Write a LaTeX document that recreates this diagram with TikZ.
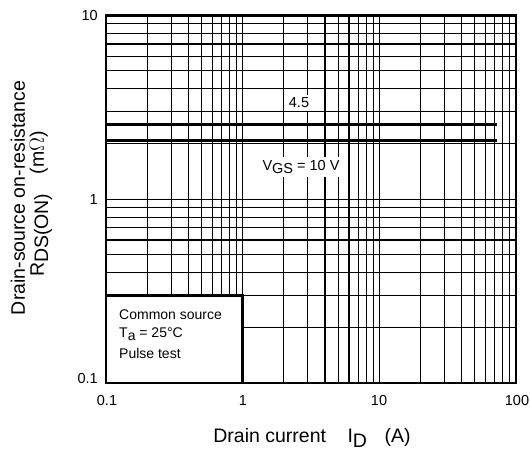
\documentclass[tikz,border=0pt]{standalone}
\usepackage{fontspec}
\setmainfont{Liberation Sans}
\newcommand\lsub[1]{\raisebox{-0.22em}{#1}}
\begin{document}
\begin{tikzpicture}[x=1pt,y=-1pt,
  gridline/.style={line width=1.1pt,black},
  frame/.style={line width=2.6pt,black},
  curve/.style={line width=3pt,black},
  tick/.style={font=\fontsize{14.5}{16}\selectfont,inner sep=0pt},
  axlabel/.style={font=\fontsize{19.5}{21}\selectfont,inner sep=0pt},
  curvelabel/.style={font=\fontsize{14.5}{16}\selectfont,fill=white,inner sep=3pt},
  legend/.style={font=\fontsize{14}{16}\selectfont,inner sep=0pt,anchor=west}]
\useasboundingbox (0,0) rectangle (530,453);
\begin{scope}[shift={(106,383)},x=136.67pt,y=183.75pt]
  \foreach \d in {0,1,2}{
    \foreach \m in {1,...,9}{
      \draw[gridline] ({\d+log10(\m)},0) -- ({\d+log10(\m)},2);
    }
  }
  \foreach \d in {0,1}{
    \foreach \m in {1,...,9}{
      \draw[gridline] (0,{\d+log10(\m)}) -- (3,{\d+log10(\m)});
    }
  }
  \draw[frame,fill=white] (0,0) rectangle (1,{log10(3)});
  \draw[curve] (0,1.4095) -- (2.861,1.4095);
  \draw[curve] (0,1.3224) -- (2.861,1.3224);
  \draw[frame] (0,0) rectangle (3,2);
\end{scope}
\node[curvelabel] (l45) at (299,103) {4.5};
\node[curvelabel] (l10) at (301,167) {V\lsub{GS} = 10 V};
\node[legend] (lg1) at (119,315) {Common source};
\node[legend] (lg2) at (119,334) {T\lsub{a} = 25°C};
\node[legend] (lg3) at (119,353) {Pulse test};
\node[tick,anchor=east] (y10) at (98,16) {10};
\node[tick,anchor=east] (y1) at (98,200) {1};
\node[tick,anchor=east] (y01) at (98,379) {0.1};
\node[tick] (x01) at (107,401) {0.1};
\node[tick] (x1) at (243,401) {1};
\node[tick] (x10) at (379,401) {10};
\node[tick] (x100) at (517,401) {100};
\node[axlabel] (xl) at (312,438) {Drain current\hspace{1.1em}I\lsub{D}\hspace{0.9em}(A)};
\node[axlabel,rotate=90] (yl1) at (18,198) {Drain-source on-resistance};
\node[axlabel,rotate=90] (yl2) at (41,204) {R\lsub{DS(ON)}\hspace{1em}(m$\Omega$)};
\end{tikzpicture}
\end{document}
